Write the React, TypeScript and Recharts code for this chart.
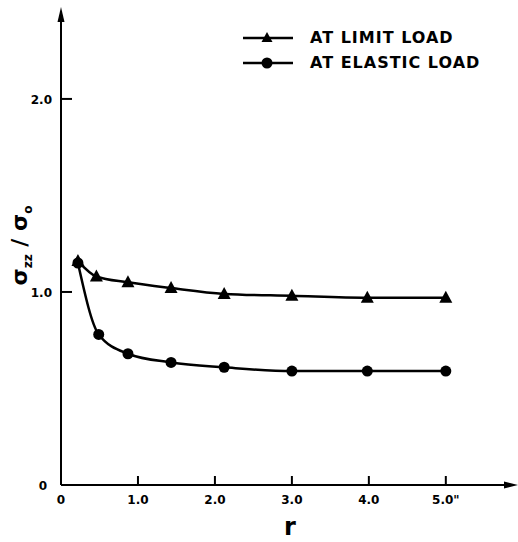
import React from 'react';
import { LineChart, Line, XAxis, YAxis, Legend, ReferenceDot } from 'recharts';

// radial distance r (inches)
const rLimit = [0.22, 0.46, 0.87, 1.43, 2.12, 3.0, 3.98, 5.0];
const limitLoad = [1.16, 1.08, 1.05, 1.02, 0.99, 0.98, 0.97, 0.97];
const rElastic = [0.22, 0.49, 0.87, 1.43, 2.12, 3.0, 3.98, 5.0];
const elasticLoad = [1.15, 0.78, 0.68, 0.635, 0.61, 0.59, 0.59, 0.59];

const seriesNames = ['AT LIMIT LOAD', 'AT ELASTIC LOAD'];

const xTicks = [0, 1, 2, 3, 4, 5];
const xTickLabels = ['0', '1.0', '2.0', '3.0', '4.0', '5.0"'];
const yTicks = [0, 1, 2];
const yTickLabels = ['0', '1.0', '2.0'];
const xMax = 5.86;
const yMax = 2.44;

const limitData = rLimit.map((r, i) => ({ r, v: limitLoad[i] }));
const elasticData = rElastic.map((r, i) => ({ r, v: elasticLoad[i] }));

const FONT = '"DejaVu Sans", "Liberation Sans", sans-serif';

const XTick = (props: any) => {
  const { x, y, payload } = props;
  const i = xTicks.indexOf(payload.value);
  return (
    <g>
      {payload.value !== 0 && (
        <path d={`M${x},${y} L${x},${y - 9}`} stroke="#000" strokeWidth={2} fill="none" />
      )}
      <text x={x} y={y + 19} textAnchor="middle" fontFamily={FONT} fontWeight="bold" fontSize={12} fill="#000">
        {xTickLabels[i]}
      </text>
    </g>
  );
};

const YTick = (props: any) => {
  const { x, y, payload } = props;
  const i = yTicks.indexOf(payload.value);
  const isZero = payload.value === 0;
  return (
    <g>
      {!isZero && <path d={`M${x},${y} L${x + 11},${y}`} stroke="#000" strokeWidth={2} fill="none" />}
      <text
        x={isZero ? x - 14 : x - 9}
        y={y + 5}
        textAnchor="end"
        fontFamily={FONT}
        fontWeight="bold"
        fontSize={12}
        fill="#000"
      >
        {yTickLabels[i]}
      </text>
    </g>
  );
};

const YLabel = (props: any) => {
  const vb = props.viewBox || { y: 14, height: 471 };
  const cy = vb.y + vb.height / 2 - 4;
  return (
    <text
      transform={`translate(27, ${cy}) rotate(-90)`}
      textAnchor="middle"
      fontFamily={FONT}
      fontWeight="bold"
      fontSize={22}
      fill="#000"
    >
      σ
      <tspan fontSize={12} dy={5}>zz</tspan>
      <tspan fontSize={22} dy={-5}> / σ</tspan>
      <tspan fontSize={12} dy={5}>o</tspan>
    </text>
  );
};

const XLabel = (props: any) => {
  const vb = props.viewBox || { x: 61, width: 451, y: 485 };
  return (
    <text x={vb.x + 229} y={535} textAnchor="middle" fontFamily={FONT} fontWeight="bold" fontSize={24} fill="#000">
      r
    </text>
  );
};

const Tri = (props: any) => {
  const { cx, cy } = props;
  if (cx == null || cy == null) return null;
  return <polygon points={`${cx},${cy - 7} ${cx - 6.5},${cy + 5} ${cx + 6.5},${cy + 5}`} fill="#000" />;
};

const Circ = (props: any) => {
  const { cx, cy } = props;
  if (cx == null || cy == null) return null;
  return <circle cx={cx} cy={cy} r={5.5} fill="#000" />;
};

const ArrowRight = (props: any) => {
  const { cx, cy } = props;
  return <polygon points={`${cx + 6},${cy} ${cx - 8},${cy - 3.5} ${cx - 8},${cy + 3.5}`} fill="#000" />;
};

const ArrowUp = (props: any) => {
  const { cx, cy } = props;
  return <polygon points={`${cx},${cy - 7} ${cx - 3.5},${cy + 8} ${cx + 3.5},${cy + 8}`} fill="#000" />;
};

const LegendContent = () => (
  <div style={{ fontFamily: FONT, fontWeight: 'bold', fontSize: 16, color: '#000' }}>
    {seriesNames.map((name, i) => (
      <div key={name} style={{ display: 'flex', alignItems: 'center', height: 25 }}>
        <svg width={50} height={16} style={{ display: 'block' }}>
          <line x1={0} y1={8} x2={50} y2={8} stroke="#000" strokeWidth={2.5} />
          {i === 0 ? (
            <polygon points="24,2 18.5,12 29.5,12" fill="#000" />
          ) : (
            <circle cx={24} cy={8} r={5.5} fill="#000" />
          )}
        </svg>
        <span style={{ marginLeft: 17, whiteSpace: 'nowrap', lineHeight: '16px', letterSpacing: 1 }}>{name}</span>
      </div>
    ))}
  </div>
);

export default function App() {
  return (
    <div style={{ position: 'absolute', left: 0, top: 0, width: 518, height: 542, background: '#fff' }}>
      <LineChart width={518} height={542} margin={{ top: 14, right: 6, left: 60, bottom: 0 }}>
        <XAxis
          type="number"
          dataKey="r"
          domain={[0, xMax]}
          ticks={xTicks}
          allowDataOverflow
          height={57}
          tickSize={0}
          tickMargin={0}
          tickLine={false}
          axisLine={{ stroke: '#000', strokeWidth: 2 }}
          tick={<XTick />}
          interval={0}
          label={<XLabel />}
        />
        <YAxis
          type="number"
          domain={[0, yMax]}
          ticks={yTicks}
          allowDataOverflow
          width={1}
          tickSize={0}
          tickMargin={0}
          tickLine={false}
          axisLine={{ stroke: '#000', strokeWidth: 2 }}
          tick={<YTick />}
          interval={0}
          label={<YLabel />}
        />
        <Legend
          layout="vertical"
          align="center"
          verticalAlign="middle"
          content={<LegendContent />}
          wrapperStyle={{ left: 243, top: 25, width: 275, height: 50 }}
        />
        <ReferenceDot x={xMax} y={0} ifOverflow="visible" shape={<ArrowRight />} />
        <ReferenceDot x={0} y={yMax} ifOverflow="visible" shape={<ArrowUp />} />
        <Line
          data={limitData}
          dataKey="v"
          name={seriesNames[0]}
          type="monotone"
          stroke="#000"
          strokeWidth={2.5}
          dot={<Tri />}
          activeDot={false}
          isAnimationActive={false}
        />
        <Line
          data={elasticData}
          dataKey="v"
          name={seriesNames[1]}
          type="monotone"
          stroke="#000"
          strokeWidth={2.5}
          dot={<Circ />}
          activeDot={false}
          isAnimationActive={false}
        />
      </LineChart>
    </div>
  );
}
